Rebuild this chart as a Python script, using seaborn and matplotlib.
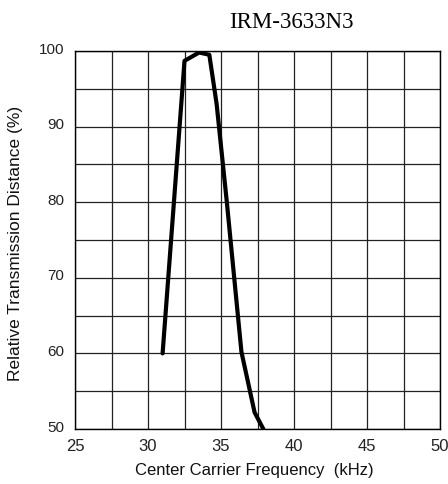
import matplotlib
matplotlib.use("Agg")
import matplotlib.pyplot as plt
import matplotlib.transforms as mtransforms
import seaborn as sns
import pandas as pd
import numpy as np

freq_khz = [31.0, 32.5, 33.5, 34.2, 34.7, 35.4, 36.4, 37.3, 37.9]
rel_distance = [60.0, 98.7, 99.8, 99.5, 93.0, 80.0, 60.2, 52.2, 50.0]

x_ticks = [25, 30, 35, 40, 45, 50]
y_ticks = [50, 60, 70, 80, 90, 100]
title = "IRM-3633N3"
x_label = "Center Carrier Frequency  (kHz)"
y_label = "Relative Transmission Distance (%)"

sns.set_style("white")
plt.rcParams['font.family'] = ['Liberation Sans', 'DejaVu Sans']

fig = plt.figure(figsize=(4.48, 4.84), dpi=100)
ax = fig.add_axes([75/448, 1-429/484, 365/448, 378/484])

df = pd.DataFrame({"f": freq_khz, "d": rel_distance})
sns.lineplot(data=df, x="f", y="d", ax=ax, color="black", linewidth=3.0,
             sort=False, estimator=None, zorder=5)

ax.set_xlim(25, 50)
ax.set_ylim(50, 100)
ax.set_xticks(x_ticks)
ax.set_yticks(y_ticks)
ax.set_xticks(np.arange(25, 50.1, 2.5), minor=True)
ax.set_yticks(np.arange(50, 100.1, 5), minor=True)
ax.grid(True, which="both", color="#222222", linewidth=0.9)
ax.tick_params(which="both", length=0, colors="#222222")
ax.tick_params(axis="x", labelsize=12, pad=7)
ax.tick_params(axis="y", labelsize=11, pad=8)
offset = mtransforms.ScaledTranslation(0, 3/100, fig.dpi_scale_trans)
for lab in ax.get_yticklabels():
    lab.set_transform(lab.get_transform() + offset)
for s in ax.spines.values():
    s.set_color("black")
    s.set_linewidth(1.0)

ax.set_xlabel(x_label, fontsize=12, color="#111111")
ax.set_ylabel(y_label, fontsize=12.5, color="#111111")
ax.xaxis.set_label_coords(0.49, -0.09)
ax.yaxis.set_label_coords(-0.142, 0.491)

fig.text(291/448, 1-22/484, title, ha="center", va="center",
         fontsize=16.5, family="Liberation Serif", color="black")

fig.savefig("out.png", dpi=100)
